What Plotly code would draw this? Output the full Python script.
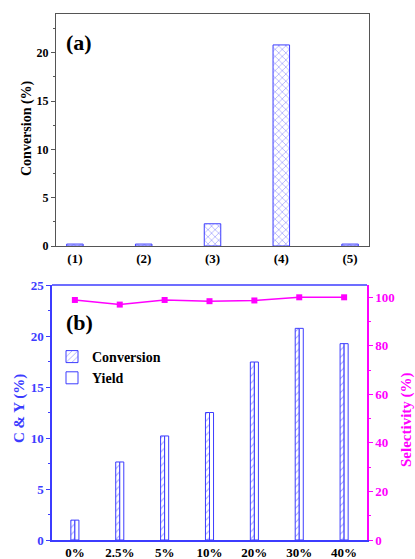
import plotly.graph_objects as go

# ---- data ----
cat_a = ["(1)", "(2)", "(3)", "(4)", "(5)"]
conv_a = [0.2, 0.2, 2.3, 20.8, 0.2]

cat_b = ["0%", "2.5%", "5%", "10%", "20%", "30%", "40%"]
conv_b = [1.95, 7.65, 10.2, 12.5, 17.45, 20.75, 19.25]
yield_b = [1.95, 7.65, 10.2, 12.5, 17.45, 20.75, 19.25]
select_b = [98.9, 97.0, 98.9, 98.4, 98.7, 100.0, 100.0]

W, H = 415, 559
BLUE = "#3c3cff"
MAG = "#ff00ff"
GRAY = "#555555"
FONT = "Liberation Serif"

def px_x(a, b):
    return [a / W, b / W]

def px_y(top, bot):
    return [1 - bot / H, 1 - top / H]

fig = go.Figure()

# panel (a)
fig.add_trace(go.Bar(
    x=cat_a, y=conv_a, xaxis="x", yaxis="y", width=0.24, showlegend=False,
    marker=dict(color="white", line=dict(color=BLUE, width=1),
                pattern=dict(shape="x", fgcolor=BLUE, bgcolor="white", size=5, solidity=0.25)),
))

# panel (b)
fig.add_trace(go.Bar(
    x=cat_b, y=conv_b, xaxis="x2", yaxis="y2", width=0.09, offset=-0.09, name="Conversion",
    marker=dict(color="white", line=dict(color=BLUE, width=1),
                pattern=dict(shape="/", fgcolor=BLUE, bgcolor="white", size=5, solidity=0.2)),
))
fig.add_trace(go.Bar(
    x=cat_b, y=yield_b, xaxis="x2", yaxis="y2", width=0.09, offset=0.0, name="Yield",
    marker=dict(color="white", line=dict(color=BLUE, width=1)),
))
fig.add_trace(go.Scatter(
    x=cat_b, y=select_b, xaxis="x2", yaxis="y3", mode="lines+markers", showlegend=False,
    line=dict(color=MAG, width=1.5), marker=dict(symbol="square", size=6, color=MAG),
))

tickfont_k = dict(family=FONT, size=12, color="black", weight="bold")
tickfont_b = dict(family=FONT, size=13, color=BLUE, weight="bold")
tickfont_m = dict(family=FONT, size=13, color=MAG, weight="bold")

fig.update_layout(
    width=W, height=H,
    margin=dict(l=0, r=0, t=0, b=0),
    paper_bgcolor="white", plot_bgcolor="white",
    xaxis=dict(domain=px_x(56, 369), anchor="y", type="category", range=[-0.275, 4.275],
               showline=True, linecolor=GRAY, linewidth=1.2, mirror=True, ticks="",
               tickfont=dict(family=FONT, size=13, color="black", weight="bold"),
               showgrid=False, zeroline=False, automargin=False),
    yaxis=dict(domain=px_y(14, 246), anchor="x", range=[0, 24], tickvals=[0, 5, 10, 15, 20],
               showline=True, linecolor=GRAY, linewidth=1.2, mirror=True, ticks="outside",
               ticklen=4, tickcolor=GRAY, tickfont=tickfont_k, showgrid=False, zeroline=False,
               minor=dict(tickvals=[2.5, 7.5, 12.5, 17.5, 22.5], ticks="outside", ticklen=2, tickcolor=GRAY),
               automargin=False),
    xaxis2=dict(domain=px_x(52, 367), anchor="y2", type="category", range=[-0.51, 6.51],
                showline=True, linecolor=BLUE, linewidth=1.5, ticks="",
                tickfont=dict(family=FONT, size=13, color="black", weight="bold"),
                showgrid=False, zeroline=False, automargin=False),
    yaxis2=dict(domain=px_y(285, 540), anchor="x2", range=[0, 25], tickvals=[0, 5, 10, 15, 20, 25],
                showline=True, linecolor=BLUE, linewidth=1.5, ticks="outside", ticklen=4,
                tickcolor=BLUE, tickfont=tickfont_b, showgrid=False, zeroline=False,
                minor=dict(tickvals=[2.5, 7.5, 12.5, 17.5, 22.5], ticks="outside", ticklen=2, tickcolor=BLUE),
                automargin=False),
    yaxis3=dict(overlaying="y2", side="right", anchor="x2", range=[0, 105.07],
                tickvals=[0, 20, 40, 60, 80, 100],
                showline=True, linecolor=MAG, linewidth=1.5, ticks="outside", ticklen=4,
                tickcolor=MAG, tickfont=tickfont_m, showgrid=False, zeroline=False,
                minor=dict(tickvals=[10, 30, 50, 70, 90], ticks="outside", ticklen=2, tickcolor=MAG),
                automargin=False),
    legend=dict(x=52 / W, y=1 - 341 / H, xanchor="left", yanchor="top",
                bgcolor="rgba(0,0,0,0)", tracegroupgap=0, itemwidth=30,
                font=dict(family=FONT, size=14, color="black", weight="bold")),
    showlegend=True,
    shapes=[
        # top border of panel (b)
        dict(type="line", xref="paper", yref="paper", x0=52 / W, x1=367 / W,
             y0=1 - 285 / H, y1=1 - 285 / H, line=dict(color=BLUE, width=1.5)),
    ],
    annotations=[
        dict(text="(a)", x=64 / W, y=1 - 42 / H, xref="paper", yref="paper", xanchor="left",
             yanchor="middle", showarrow=False,
             font=dict(family=FONT, size=22, color="black", weight="bold")),
        dict(text="(b)", x=64 / W, y=1 - 322 / H, xref="paper", yref="paper", xanchor="left",
             yanchor="middle", showarrow=False,
             font=dict(family=FONT, size=22, color="black", weight="bold")),
        dict(text="Conversion (%)", x=27 / W, y=1 - 128 / H, xref="paper", yref="paper",
             xanchor="center", yanchor="middle", textangle=-90, showarrow=False,
             font=dict(family=FONT, size=14, color="black", weight="bold")),
        dict(text="C &amp; Y (%)", x=19 / W, y=1 - 409 / H, xref="paper", yref="paper",
             xanchor="center", yanchor="middle", textangle=-90, showarrow=False,
             font=dict(family=FONT, size=15, color=BLUE, weight="bold")),
        dict(text="Selectivity (%)", x=406 / W, y=1 - 420 / H, xref="paper", yref="paper",
             xanchor="center", yanchor="middle", textangle=-90, showarrow=False,
             font=dict(family=FONT, size=15, color=MAG, weight="bold")),
    ],
)

fig.write_html("out.html")
